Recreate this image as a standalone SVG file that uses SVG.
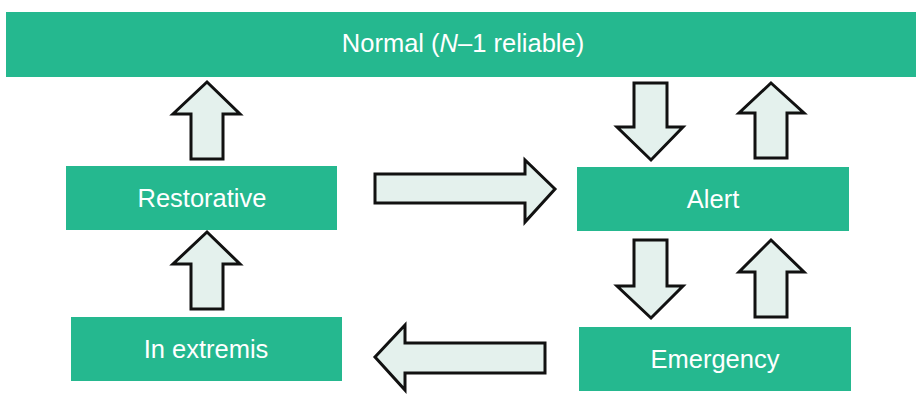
<svg xmlns="http://www.w3.org/2000/svg" width="916" height="415" viewBox="0 0 916 415">
<style>
.box{fill:#25b88f}
.lbl{font-family:"Liberation Sans",Arial,sans-serif;font-size:25.5px;fill:#ffffff;text-anchor:middle}
.arr{fill:#e4f1ed;stroke:#111111;stroke-width:3;stroke-linejoin:miter}
</style>
<rect width="916" height="415" fill="#ffffff"/>
<g id="normal"><rect class="box" x="6" y="12" width="910" height="65"/><text class="lbl" x="463" y="52">Normal (<tspan font-style="italic">N</tspan>–1 reliable)</text></g>
<g id="restorative"><rect class="box" x="66" y="166" width="271" height="64"/><text class="lbl" x="202" y="207">Restorative</text></g>
<g id="alert"><rect class="box" x="577" y="167" width="272" height="64"/><text class="lbl" x="713" y="208">Alert</text></g>
<g id="inextremis"><rect class="box" x="71" y="317" width="271" height="64"/><text class="lbl" x="206" y="358">In extremis</text></g>
<g id="emergency"><rect class="box" x="579" y="327" width="272" height="64"/><text class="lbl" x="715" y="368">Emergency</text></g>
<g id="connectors">
<polygon class="arr" points="207,82 240,114 223,114 223,159 191,159 191,114 173,114"/>
<polygon class="arr" points="207,232 240,264 223,264 223,309 191,309 191,264 173,264"/>
<polygon class="arr" points="375,174 525,174 525,160 555,189 525,222 525,203 375,203"/>
<polygon class="arr" points="375,357 405,325 405,343 545,343 545,373 405,373 405,390"/>
<polygon class="arr" points="634,83 667,83 667,127 683,127 651,160 617,127 634,127"/>
<polygon class="arr" points="771,83 804,113 787,113 787,158 755,158 755,113 739,113"/>
<polygon class="arr" points="634,240 667,240 667,286 683,286 651,318 617,286 634,286"/>
<polygon class="arr" points="771,240 804,272 787,272 787,317 755,317 755,272 739,272"/>
</g>
</svg>
